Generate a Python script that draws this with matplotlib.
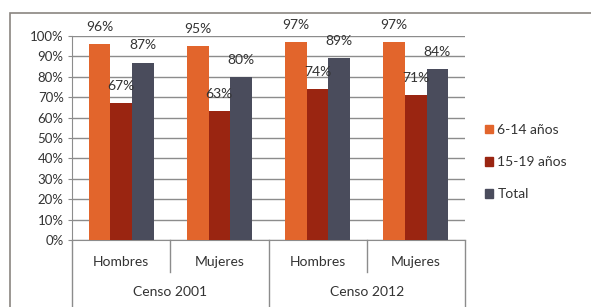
import matplotlib.pyplot as plt
from matplotlib.patches import Rectangle, Patch

plt.rcParams['font.family'] = ['Lato', 'DejaVu Sans']

sexos = ['Hombres', 'Mujeres', 'Hombres', 'Mujeres']
censos = ['Censo 2001', 'Censo 2012']
series = ['6-14 años', '15-19 años', 'Total']
v_6_14 = [96, 95, 97, 97]
v_15_19 = [67, 63, 74, 71]
v_total = [87, 80, 89, 84]
colores = ['#E2652C', '#9A2511', '#4A4C5C']
yticks = [0, 10, 20, 30, 40, 50, 60, 70, 80, 90, 100]

fig = plt.figure(figsize=(5.91, 3.07), dpi=100)
fig.patches.append(Rectangle((10 / 591, -0.1), 1.2, 1 - 13 / 307 + 0.1,
                             transform=fig.transFigure, fill=False,
                             edgecolor='#8a8580', linewidth=1.2))

ax = fig.add_axes([72 / 591, 1 - 240 / 307, (465 - 72) / 591, 204 / 307])

w = 0.22
x = range(len(sexos))
for i, vals in enumerate([v_6_14, v_15_19, v_total]):
    pos = [p + (i - 1) * w for p in x]
    bars = ax.bar(pos, [v / 100 for v in vals], width=w, color=colores[i],
                  zorder=3)
    for b, v in zip(bars, vals):
        ax.annotate(f'{v}%', (b.get_x() + b.get_width() / 2, b.get_height()),
                    xytext=(0, 8), textcoords='offset points',
                    ha='center', va='bottom', fontsize=10, color='#333333',
                    zorder=5)

ax.set_xlim(-0.5, 3.5)
ax.set_ylim(0, 1)
ax.set_yticks([t / 100 for t in yticks])
ax.set_yticklabels([f'{t}%' for t in yticks], fontsize=9.5, color='#333333')
ax.tick_params(axis='y', length=3, color='#8c8c8c', pad=3)
ax.set_xticks([])
ax.grid(axis='y', color='#8c8c8c', linewidth=1, zorder=0)
for s in ['top', 'right']:
    ax.spines[s].set_visible(False)
for s in ['left', 'bottom']:
    ax.spines[s].set_color('#8c8c8c')

tr = ax.get_xaxis_transform()
for i, s in enumerate(sexos):
    ax.text(i, -0.108, s, transform=tr, ha='center', va='center',
            fontsize=10, color='#333333')
for j, c in enumerate(censos):
    ax.text(2 * j + 0.5, -0.255, c, transform=tr, ha='center', va='center',
            fontsize=10, color='#333333')
for xs in [0.5, 2.5]:
    ax.plot([xs, xs], [0, -0.157], transform=tr, color='#8c8c8c',
            linewidth=1, clip_on=False)
for xs in [-0.5, 1.5, 3.5]:
    ax.plot([xs, xs], [0, -0.35], transform=tr, color='#8c8c8c',
            linewidth=1, clip_on=False)

handles = [Patch(color=c) for c in colores]
fig.legend(handles, series, loc='center left',
           bbox_to_anchor=(478 / 591, 1 - 162 / 307), frameon=False,
           fontsize=10, handlelength=0.6, handleheight=0.6,
           handletextpad=0.3, labelspacing=1.45, borderpad=0,
           labelcolor='#333333')

fig.savefig('out.png', dpi=100)
